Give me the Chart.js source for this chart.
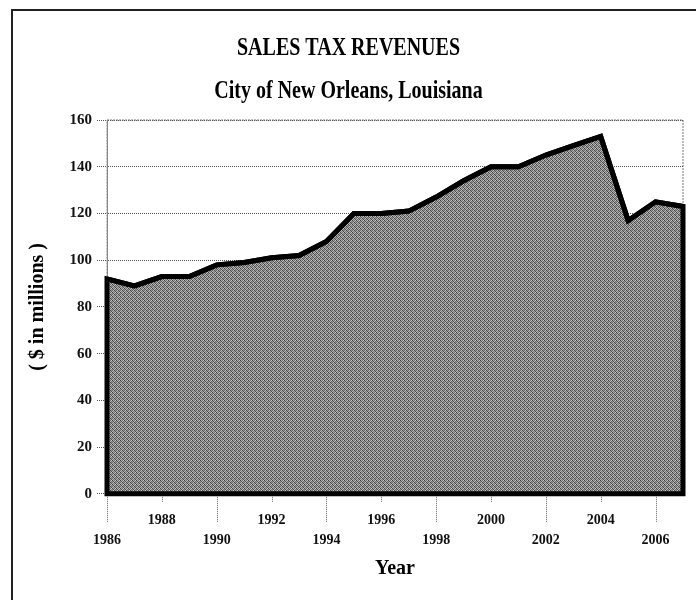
<!DOCTYPE html>
<html>
<head>
<meta charset="utf-8">
<script src="https://cdn.jsdelivr.net/npm/chart.js@4"></script>
<style>
  html, body { margin: 0; padding: 0; background: #fff; }
  #wrap { width: 696px; height: 600px; }
</style>
</head>
<body>
<div id="wrap"><canvas id="taxChart" width="696" height="600"></canvas></div>
<script>
// Sales tax revenues, City of New Orleans ($ millions)
const years = ['1986', '1987', '1988', '1989', '1990', '1991', '1992', '1993', '1994', '1995', '1996',
  '1997', '1998', '1999', '2000', '2001', '2002', '2003', '2004', '2005', '2006', '2007'];
const revenues = [92, 89, 93, 93, 98, 99, 101, 102, 108, 120, 120,
  121, 127, 134, 140, 140, 145, 149, 153, 117, 125, 123];
const yTicks = [0, 20, 40, 60, 80, 100, 120, 140, 160];

const serif = "'Liberation Serif', 'Times New Roman', serif";

// stippled gray like the scanned halftone
function makeStipple() {
  const c = document.createElement('canvas');
  c.width = 4; c.height = 4;
  const g = c.getContext('2d');
  const shades = ['#3c3c3c', '#b0b0b0', '#6a6a6a', '#c8c8c8',
                  '#9a9a9a', '#505050', '#bcbcbc', '#707070',
                  '#6a6a6a', '#c2c2c2', '#444444', '#949494',
                  '#b4b4b4', '#787878', '#a4a4a4', '#4c4c4c'];
  shades.forEach((s, i) => { g.fillStyle = s; g.fillRect(i % 4, Math.floor(i / 4), 1, 1); });
  return g.createPattern(c, 'repeat');
}

// the scanned titles are tall and narrow: squeeze the title boxes horizontally
const narrowTitles = {
  id: 'narrowTitles',
  beforeDraw(chart) {
    chart.boxes.forEach(box => {
      if (box._narrowed || !box.options || typeof box.options.text !== 'string') return;
      const draw = box.draw.bind(box);
      box.draw = function () {
        const ctx = this.ctx;
        const cx = (this.left + this.right) / 2;
        ctx.save();
        ctx.translate(cx, 0);
        ctx.scale(0.8, 1);
        ctx.translate(-cx, 0);
        draw();
        ctx.restore();
      };
      box._narrowed = true;
    });
  }
};

// page frame (scan border), dotted plot box, long dotted ticks under the lower label row
const framePlugin = {
  id: 'frame',
  beforeDraw(chart) {
    const ctx = chart.ctx;
    ctx.save();
    ctx.strokeStyle = '#222';
    ctx.lineWidth = 2;
    ctx.beginPath();
    ctx.moveTo(12, 600);
    ctx.lineTo(12, 10);
    ctx.lineTo(696, 10);
    ctx.stroke();
    const a = chart.chartArea;
    ctx.strokeStyle = '#777';
    ctx.lineWidth = 1;
    ctx.setLineDash([2, 1]);
    ctx.strokeRect(a.left, a.top, a.right - a.left, a.bottom - a.top);
    ctx.restore();
  },
  afterDraw(chart) {
    const xs = chart.scales.x;
    const ctx = chart.ctx;
    ctx.save();
    ctx.strokeStyle = '#666';
    ctx.lineWidth = 1;
    ctx.setLineDash([1, 1]);
    years.forEach((y, i) => {
      const yr = Number(y);
      if (yr % 2 !== 0) return;
      const px = Math.round(xs.getPixelForTick(i)) + 0.5;
      const len = yr % 4 === 0 ? 8 : 28;
      ctx.beginPath();
      ctx.moveTo(px, xs.top + 3);
      ctx.lineTo(px, xs.top + len);
      ctx.stroke();
    });
    ctx.restore();
  }
};

// outline the whole area polygon (sides + base), like the original
const outlinePlugin = {
  id: 'areaOutline',
  afterDatasetsDraw(chart) {
    const pts = chart.getDatasetMeta(0).data;
    if (!pts.length) return;
    const base = chart.scales.y.getPixelForValue(0);
    const ctx = chart.ctx;
    ctx.save();
    ctx.strokeStyle = '#000';
    ctx.lineWidth = 5;
    ctx.lineJoin = 'miter';
    ctx.beginPath();
    ctx.moveTo(pts[0].x, base);
    pts.forEach(p => ctx.lineTo(p.x, p.y));
    ctx.lineTo(pts[pts.length - 1].x, base);
    ctx.closePath();
    ctx.stroke();
    ctx.restore();
  }
};

document.addEventListener('DOMContentLoaded', () => {
  const ctx = document.getElementById('taxChart');
  new Chart(ctx, {
    type: 'line',
    data: {
      labels: years,
      datasets: [{
        data: revenues,
        fill: 'origin',
        backgroundColor: makeStipple(),
        borderColor: '#000',
        borderWidth: 5,
        pointRadius: 0,
        tension: 0
      }]
    },
    plugins: [narrowTitles, framePlugin, outlinePlugin],
    options: {
      responsive: false,
      animation: false,
      layout: { padding: { left: 14, right: 13, top: 0, bottom: 19 } },
      plugins: {
        legend: { display: false },
        tooltip: { enabled: false },
        title: {
          display: true,
          text: 'SALES TAX REVENUES',
          color: '#000',
          font: { family: serif, size: 25, weight: 'bold' },
          padding: { top: 34, bottom: 0 }
        },
        subtitle: {
          display: true,
          text: 'City of New Orleans, Louisiana',
          color: '#000',
          font: { family: serif, size: 25, weight: 'bold' },
          padding: { top: 13, bottom: 13 }
        }
      },
      scales: {
        x: {
          offset: false,
          grid: {
            drawOnChartArea: false,
            drawTicks: true,
            tickLength: 14,
            tickColor: 'rgba(0,0,0,0)'
          },
          border: { display: false },
          ticks: {
            autoSkip: false,
            maxRotation: 0,
            padding: 3,
            color: '#111',
            font: { family: serif, size: 14, weight: 'bold', lineHeight: 1.4 },
            callback: (v, i) => {
              const yr = Number(years[i]);
              if (yr % 2 !== 0) return '';
              return yr % 4 === 0 ? String(yr) : ['', String(yr)];
            }
          },
          title: {
            display: true,
            text: 'Year',
            color: '#000',
            font: { family: serif, size: 20, weight: 'bold' },
            padding: { top: 4, bottom: 0 }
          }
        },
        y: {
          min: 0,
          max: 160,
          afterBuildTicks: s => { s.ticks = yTicks.map(v => ({ value: v })); },
          afterFit: s => { s.width = 93; },
          grid: {
            color: '#555',
            lineWidth: 1,
            tickLength: 10,
            tickBorderDash: [1, 1]
          },
          border: { color: '#888', dash: [1, 1] },
          ticks: {
            padding: 5,
            color: '#111',
            font: { family: serif, size: 15, weight: 'bold' }
          },
          title: {
            display: true,
            text: '( $ in millions )',
            color: '#000',
            font: { family: serif, size: 20, weight: 'bold' },
            padding: { top: 12, bottom: 0 }
          }
        }
      }
    }
  });
});
</script>
</body>
</html>
